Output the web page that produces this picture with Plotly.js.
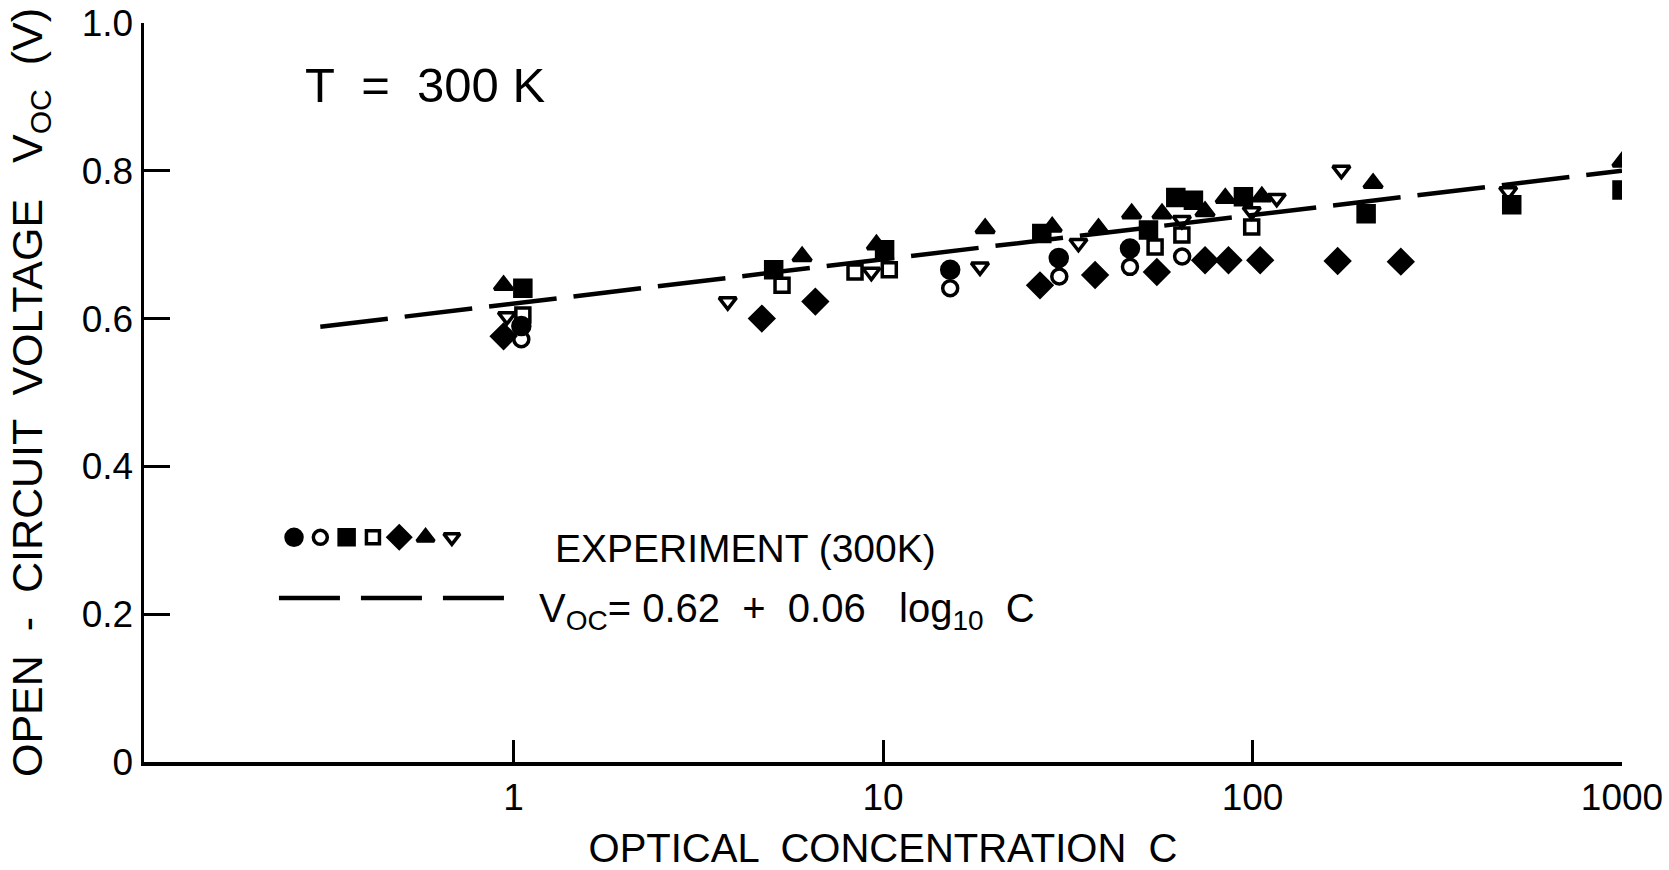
<!DOCTYPE html>
<html>
<head>
<meta charset="utf-8">
<script src="https://cdn.plot.ly/plotly-3.0.1.min.js"></script>
<style>html,body{margin:0;padding:0;background:#fff;}#chart{width:1669px;height:870px;}</style>
</head>
<body>
<div id="chart"></div>
<script>
// ---- data ----
const filledCircleC = [1.05, 15.2, 29.9, 46.6];
const filledCircleV = [0.590, 0.666, 0.682, 0.695];

const openCircleC = [1.05, 15.2, 30.0, 46.6, 64.5];
const openCircleV = [0.572, 0.641, 0.657, 0.670, 0.684];

const filledSquareC = [1.06, 5.06, 10.1, 26.9, 52.3, 62.0, 69.2, 94.5, 203, 503, 1000];
const filledSquareV = [0.641, 0.666, 0.693, 0.715, 0.720, 0.764, 0.760, 0.765, 0.742, 0.754, 0.774];

const openSquareC = [1.06, 5.33, 8.4, 10.4, 54.5, 64.4, 99.5];
const openSquareV = [0.605, 0.645, 0.663, 0.666, 0.697, 0.713, 0.724];

const diamondC = [0.94, 4.7, 6.56, 26.6, 37.5, 55.1, 74.4, 86.1, 104.9, 170, 252];
const diamondV = [0.576, 0.600, 0.623, 0.645, 0.659, 0.663, 0.679, 0.679, 0.679, 0.678, 0.677];

const triUpC = [0.94, 6.04, 9.6, 18.9, 28.7, 38.3, 47.1, 56.9, 74.4, 84.4, 106, 212, 1000];
const triUpV = [0.645, 0.684, 0.700, 0.722, 0.724, 0.722, 0.742, 0.742, 0.745, 0.763, 0.765, 0.783, 0.812];

const triDownC = [0.96, 3.8, 9.3, 18.3, 33.8, 64.4, 99.5, 116.3, 174, 492];
const triDownV = [0.603, 0.623, 0.663, 0.670, 0.702, 0.733, 0.745, 0.763, 0.801, 0.772];

// fitted line  Voc = 0.62 + 0.06 log10 C  (end points as drawn)
const fitC = [0.3, 1000];
const fitV = [0.589, 0.800];

const xTickVals = [1, 10, 100, 1000];
const xTickText = ['1', '10', '100', '1000'];
const yTickVals = [0, 0.2, 0.4, 0.6, 0.8, 1.0];
const yTickText = ['0', '0.2', '0.4', '0.6', '0.8', '1.0'];

// ---- styling ----
const FONT = 'Liberation Sans, Arial, sans-serif';
const BLACK = '#000';
const series = [
  {x: filledCircleC, y: filledCircleV, symbol: 'circle', size: 17},
  {x: openCircleC, y: openCircleV, symbol: 'circle-open', size: 15},
  {x: filledSquareC, y: filledSquareV, symbol: 'square', size: 16},
  {x: openSquareC, y: openSquareV, symbol: 'square-open', size: 14},
  {x: diamondC, y: diamondV, symbol: 'diamond', size: 18},
  {x: triUpC, y: triUpV, symbol: 'triangle-up', size: 16},
  {x: triDownC, y: triDownV, symbol: 'triangle-down-open', size: 15}
];

const traces = [];
traces.push({
  x: fitC, y: fitV, mode: 'lines', type: 'scatter', showlegend: false, hoverinfo: 'skip',
  line: {color: BLACK, width: 4.5, dash: '68px,17px'}
});
series.forEach(s => {
  traces.push({
    x: s.x, y: s.y, mode: 'markers', type: 'scatter', showlegend: false,
    marker: {symbol: s.symbol, size: s.size, color: BLACK, line: {color: BLACK, width: 3.5}}
  });
});
// legend symbol row (overlay axes spanning the plot area, 0..1)
const legX0 = 0.1015, legStep = 0.0178, legY = 0.304;
series.forEach((s, i) => {
  traces.push({
    x: [legX0 + i * legStep], y: [legY], xaxis: 'x2', yaxis: 'y2', mode: 'markers', type: 'scatter',
    showlegend: false, hoverinfo: 'skip',
    marker: {symbol: s.symbol, size: s.size - 1, color: BLACK, line: {color: BLACK, width: 3.5}}
  });
});

const layout = {
  width: 1669, height: 870,
  margin: {l: 144, r: 47, t: 23, b: 108},
  paper_bgcolor: '#fff', plot_bgcolor: '#fff',
  font: {family: FONT, color: BLACK, size: 36},
  showlegend: false,
  xaxis: {
    type: 'log', range: [-1, 3],
    tickvals: xTickVals, ticktext: xTickText,
    ticks: 'inside', ticklen: 22, tickwidth: 3, tickcolor: BLACK,
    showline: true, linewidth: 3.5, linecolor: BLACK, mirror: false,
    showgrid: false, zeroline: false,
    tickfont: {size: 37, family: FONT},
    title: {text: 'OPTICAL  CONCENTRATION  C', font: {size: 40, family: FONT}, standoff: 20}
  },
  yaxis: {
    range: [0, 1.0],
    tickvals: yTickVals, ticktext: yTickText,
    ticks: 'inside', ticklen: 26, tickwidth: 3, tickcolor: BLACK,
    showline: true, linewidth: 3.5, linecolor: BLACK,
    showgrid: false, zeroline: false,
    tickfont: {size: 37, family: FONT},
    title: {text: 'OPEN  -  CIRCUIT  VOLTAGE   V<sub>OC</sub>  (V)', font: {size: 43, family: FONT}, standoff: 26}
  },
  xaxis2: {overlaying: 'x', range: [0, 1], visible: false, fixedrange: true},
  yaxis2: {overlaying: 'y', range: [0, 1], visible: false, fixedrange: true},
  shapes: [{
    type: 'line', xref: 'paper', yref: 'paper', x0: 0.0913, x1: 0.2449, y0: 0.222, y1: 0.222,
    line: {color: BLACK, width: 4.5, dash: '61px,21px'}
  }],
  annotations: [
    {text: 'T  =  300 K', xref: 'paper', yref: 'paper', x: 0.1076, y: 0.916, xanchor: 'left', yanchor: 'middle',
     showarrow: false, font: {size: 49, family: FONT}},
    {text: 'EXPERIMENT (300K)', xref: 'paper', yref: 'paper', x: 0.2767, y: 0.289, xanchor: 'left', yanchor: 'middle',
     showarrow: false, font: {size: 39, family: FONT}},
    {text: 'V<sub>OC</sub>= 0.62  +  0.06   log<sub>10</sub>  C', xref: 'paper', yref: 'paper', x: 0.2659, y: 0.205,
     xanchor: 'left', yanchor: 'middle', showarrow: false, font: {size: 40, family: FONT}}
  ]
};

Plotly.newPlot('chart', traces, layout, {displayModeBar: false, staticPlot: true});
</script>
</body>
</html>
